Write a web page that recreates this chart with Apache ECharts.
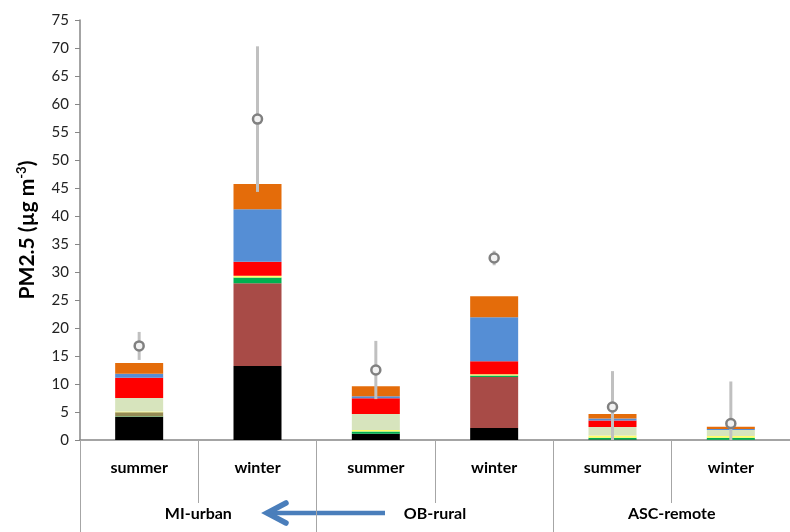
<!DOCTYPE html>
<html>
<head>
<meta charset="utf-8">
<script src="https://cdn.jsdelivr.net/npm/echarts@6/dist/echarts.min.js"></script>
<style>
  html, body { margin: 0; padding: 0; background: #fff; }
  #chart { width: 790px; height: 532px; }
</style>
</head>
<body>
<div id="chart"></div>
<script>
// Seasons (inner category level) and sites (outer level)
const seasons = ['summer', 'winter', 'summer', 'winter', 'summer', 'winter'];
const sites = ['MI-urban', 'OB-rural', 'ASC-remote'];
const yTicks = { min: 0, max: 75, interval: 5 };

// Stacked PM2.5 components (µg m-3), bottom to top
const blackPart  = [4.1, 13.2, 1.1, 2.15, 0.1, 0.05];
const brownPart  = [0,   14.8, 0,   9.1,  0,   0];
const greenPart  = [0.1, 1.0,  0.4, 0.25, 0.3, 0.35];
const olivePart  = [0.75, 0,   0,   0,    0,   0];
const yellowPart = [0.15, 0.35, 0.3, 0.25, 0.4, 0.3];
const beigePart  = [2.4, 0,    2.85, 0,   1.5, 1.1];
const redPart    = [3.6, 2.5,  2.8, 2.3,  1.2, 0];
const bluePart   = [0.75, 9.35, 0.35, 7.85, 0.35, 0.15];
const orangePart = [1.9, 4.5,  1.8, 3.75, 0.8, 0.4];

// Measured mean PM2.5 and its standard deviation
const meanPM = [16.8, 57.3, 12.5, 32.5, 5.9, 2.95];
const sdPM   = [2.5, 13.0, 5.2, 1.3, 6.4, 7.5];

const font = 'Lato, "Open Sans", sans-serif';
const layers = [
  [blackPart, '#000000'],
  [brownPart, '#A84B47'],
  [greenPart, '#00B050'],
  [olivePart, '#948A54'],
  [yellowPart, '#FFFF66'],
  [beigePart, '#D7E4BD'],
  [redPart, '#FF0000'],
  [bluePart, '#558ED5'],
  [orangePart, '#E46C0A']
];

const barSeries = layers.map(([vals, color]) => ({
  type: 'bar',
  stack: 'pm',
  xAxisIndex: 0,
  barWidth: 48,
  data: vals,
  itemStyle: { color: color },
  silent: true,
  z: 2
}));

const errorSeries = {
  type: 'custom',
  xAxisIndex: 0,
  z: 5,
  silent: true,
  data: meanPM.map((m, i) => [i, Math.max(0, m - sdPM[i]), m + sdPM[i]]),
  renderItem: function (params, api) {
    const lo = api.coord([api.value(0), api.value(1)]);
    const hi = api.coord([api.value(0), api.value(2)]);
    return {
      type: 'line',
      shape: { x1: lo[0], y1: lo[1], x2: hi[0], y2: hi[1] },
      style: { stroke: '#C0C0C0', lineWidth: 3 }
    };
  }
};

const meanSeries = {
  type: 'scatter',
  xAxisIndex: 0,
  z: 6,
  silent: true,
  symbol: 'circle',
  symbolSize: 9,
  data: meanPM,
  itemStyle: { color: '#F2F2F2', borderColor: '#808080', borderWidth: 2.5, opacity: 1 }
};

const chart = echarts.init(document.getElementById('chart'), null, { renderer: 'canvas' });
chart.setOption({
  animation: false,
  backgroundColor: '#ffffff',
  grid: { left: 80, top: 20, width: 715, height: 420, containLabel: false },
  xAxis: [
    {
      type: 'category',
      data: seasons,
      position: 'bottom',
      axisLine: { show: true, lineStyle: { color: '#868686', width: 1.5 } },
      axisTick: { show: true, interval: 0, length: 5, lineStyle: { color: '#868686' } },
      axisLabel: { interval: 0, margin: 20, color: '#000', fontFamily: font, fontWeight: 'bold', fontSize: 16 },
      splitLine: { show: false }
    },
    {
      type: 'category',
      data: seasons,
      position: 'bottom',
      axisLine: { show: false },
      axisTick: { show: true, interval: 0, length: 63, lineStyle: { color: '#A6A6A6' } },
      axisLabel: { show: false },
      splitLine: { show: false }
    },
    {
      type: 'category',
      data: sites,
      position: 'bottom',
      axisLine: { show: false },
      axisTick: { show: true, interval: 0, length: 92, lineStyle: { color: '#A6A6A6' } },
      axisLabel: { interval: 0, margin: 66, color: '#000', fontFamily: font, fontWeight: 'bold', fontSize: 16 },
      splitLine: { show: false }
    }
  ],
  yAxis: {
    type: 'value',
    min: yTicks.min,
    max: yTicks.max,
    interval: yTicks.interval,
    axisLine: { show: true, lineStyle: { color: '#868686', width: 1.5 } },
    axisTick: { show: true, length: 5, inside: false, lineStyle: { color: '#868686' } },
    axisLabel: { margin: 11, color: '#222', fontFamily: font, fontSize: 15 },
    splitLine: { show: false },
    name: '{a|PM2.5 (µg m}{s|-3}{a|)}',
    nameLocation: 'middle',
    nameGap: 41,
    nameRotate: 90,
    nameTextStyle: {
      rich: {
        a: { fontFamily: font, fontWeight: 'bold', fontSize: 21, color: '#000', lineHeight: 24 },
        s: { fontFamily: font, fontWeight: 'bold', fontSize: 13, color: '#000', verticalAlign: 'top', lineHeight: 15 }
      }
    }
  },
  series: barSeries.concat([errorSeries, meanSeries]),
  graphic: [
    {
      type: 'group',
      z: 10,
      children: [
        { type: 'line', shape: { x1: 385, y1: 513, x2: 268, y2: 513 }, style: { stroke: '#4A7EBB', lineWidth: 4.5 } },
        { type: 'polyline', shape: { points: [[286, 503], [267, 513], [286, 523]] },
          style: { stroke: '#4A7EBB', lineWidth: 5.5, fill: null, lineCap: 'round', lineJoin: 'miter' } }
      ]
    }
  ]
});
</script>
</body>
</html>
